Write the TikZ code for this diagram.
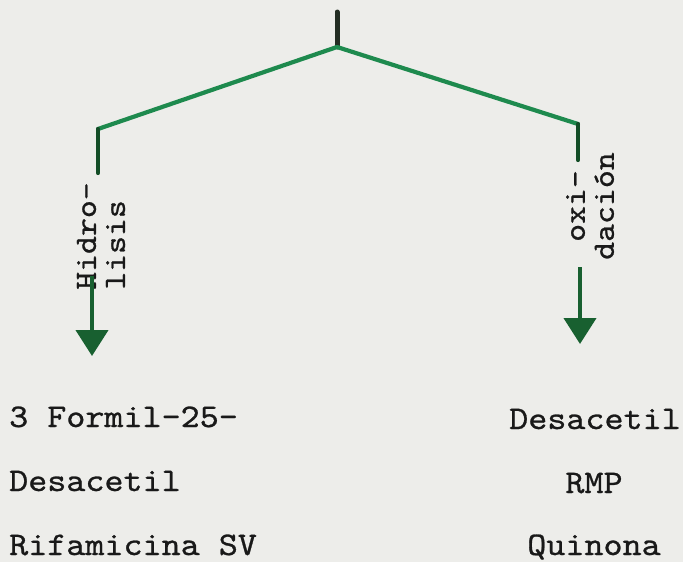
\documentclass[tikz,border=0pt]{standalone}
\usepackage{fontspec}
\usetikzlibrary{arrows.meta}
\newfontfamily\typew[FakeStretch=1.1,FakeBold=0.8]{lmmono10-regular.otf}
\definecolor{paper}{RGB}{237,237,234}
\definecolor{lgreen}{RGB}{30,138,78}
\definecolor{dgreen}{RGB}{24,96,48}
\definecolor{stemc}{RGB}{35,45,35}
\definecolor{ink}{RGB}{25,25,25}
\tikzset{
  branch/.style={draw=lgreen, line width=4.2pt, line join=round, line cap=round},
  stemline/.style={draw=stemc, line width=5pt, line cap=round},
  drop/.style={draw=dgreen!80!black, line width=4.2pt, line cap=round},
  reaction/.style={draw=dgreen, line width=4.2pt, -{Triangle[length=26pt,width=32pt]}, fill=dgreen},
  steplabel/.style={inner sep=0pt, text=ink, font=\typew\fontsize{31}{29}\selectfont, rotate=90},
  product/.style={inner sep=0pt, text=ink, font=\typew\fontsize{33}{40}\selectfont}
}
\begin{document}
\begin{tikzpicture}[x=1pt,y=-1pt]
\fill[paper] (0,0) rectangle (683,562);
\useasboundingbox (0,0) rectangle (683,562);
% tree points
\coordinate (top) at (337,12);
\coordinate (apex) at (337,47);
\coordinate (lc) at (98,129);
\coordinate (rc) at (578,124);
\coordinate (lv) at (98,173);
\coordinate (rv) at (578,160);
\coordinate (lstart) at (92,276);
\coordinate (ltip) at (92,356);
\coordinate (rstart) at (580,267);
\coordinate (rtip) at (580,344);
% labels
\node[steplabel, align=left] (hid) at (101,236) {Hidro-\\lisis};
\node[steplabel, align=center] (oxi) at (590,206) {oxi-\\dación};
% connectors
\draw[stemline] (top) -- (apex);
\draw[branch] (lc) -- (apex) -- (rc);
\draw[drop] (lc) -- (lv);
\draw[drop] (rc) -- (rv);
\draw[reaction] (lstart) -- (ltip);
\draw[reaction] (rstart) -- (rtip);
% products
\node[product, anchor=base west] (l1) at (9,427) {3 Formil-25-};
\node[product, anchor=base west] (l2) at (9,491) {Desacetil};
\node[product, anchor=base west] (l3) at (9,555) {Rifamicina SV};
\node[product, anchor=base] (r1) at (595,429) {Desacetil};
\node[product, anchor=base] (r2) at (594,493) {RMP};
\node[product, anchor=base] (r3) at (594,555) {Quinona};
\end{tikzpicture}
\end{document}
